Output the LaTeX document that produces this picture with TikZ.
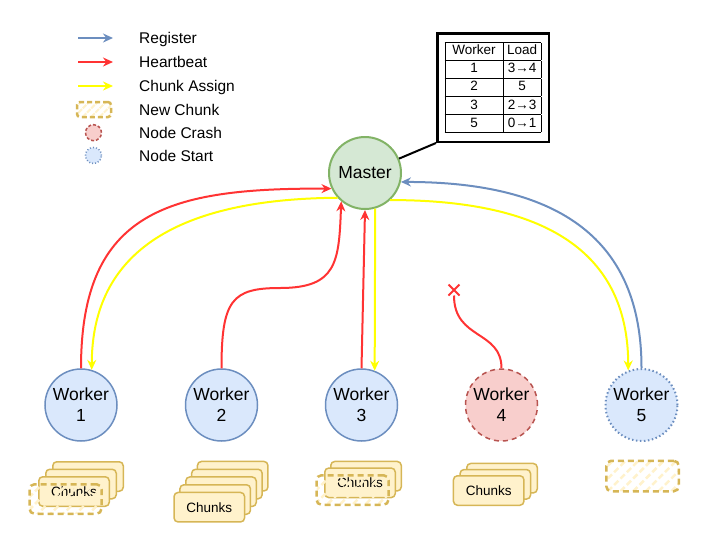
\documentclass[tikz,border=0pt]{standalone}
\usepackage{fontspec}
\setmainfont{Liberation Sans}
\usepackage{array}
\usetikzlibrary{arrows.meta,shapes.misc,patterns.meta}

\definecolor{workerfill}{HTML}{DAE8FC}
\definecolor{workerline}{HTML}{6C8EBF}
\definecolor{masterfill}{HTML}{D5E8D4}
\definecolor{masterline}{HTML}{82B366}
\definecolor{crashfill}{HTML}{F8CECC}
\definecolor{crashline}{HTML}{B85450}
\definecolor{chunkfill}{HTML}{FFF2CC}
\definecolor{chunkline}{HTML}{D6B656}
\definecolor{heartcol}{HTML}{FF3333}
\definecolor{assigncol}{HTML}{FFFF00}
\definecolor{registercol}{HTML}{6C8EBF}

\tikzset{
  worker/.style={circle, draw=workerline, fill=workerfill, line width=1.5pt, minimum size=72pt, inner sep=0pt, align=center, font=\fontsize{17.5}{21}\selectfont},
  crashed/.style={worker, draw=crashline, fill=crashfill, dash pattern=on 5pt off 4pt},
  started/.style={worker, line width=2pt, dash pattern=on 1.5pt off 2.5pt},
  masternode/.style={circle, draw=masterline, fill=masterfill, line width=2pt, minimum size=72pt, inner sep=0pt, font=\fontsize{17.5}{21}\selectfont},
  loadbox/.style={draw=black, fill=white, line width=2.5pt, minimum width=111.5pt, minimum height=108.5pt, inner sep=0pt, font=\fontsize{13.5}{15}\selectfont},
  chunk/.style={draw=chunkline, fill=chunkfill, line width=1.5pt, rounded corners=4pt, minimum width=70.5pt, minimum height=29.5pt, inner sep=0pt, font=\fontsize{13.5}{16}\selectfont},
  newchunk/.style={draw=chunkline, line width=2.5pt, dash pattern=on 6pt off 4pt, rounded corners=5pt, pattern={Lines[angle=45,distance=9pt,line width=2.5pt]}, pattern color=chunkfill, minimum width=72pt, minimum height=29.5pt, inner sep=0pt},
  register/.style={draw=registercol, line width=2pt, -{Stealth[length=10pt,width=9pt]}},
  heartbeat/.style={draw=heartcol, line width=2pt, -{Stealth[length=10pt,width=9pt]}},
  assign/.style={draw=assigncol, line width=2pt, -{Stealth[length=10pt,width=9pt]}},
  legendtext/.style={anchor=base west, inner sep=0pt, font=\fontsize{15.5}{18}\selectfont},
}

\begin{document}
\begin{tikzpicture}[x=1pt, y=-1pt]
\useasboundingbox (0,0) rectangle (720,539);

% legend
\coordinate (regA) at (78,38);
\coordinate (regB) at (113,38);
\draw[register] (regA) -- (regB);
\node[legendtext] (regtext) at (139,43.5) {Register};
\coordinate (beatA) at (78,62);
\coordinate (beatB) at (113,62);
\draw[heartbeat] (beatA) -- (beatB);
\node[legendtext] (beattext) at (139,67.5) {Heartbeat};
\coordinate (assignA) at (78,86);
\coordinate (assignB) at (113,86);
\draw[assign] (assignA) -- (assignB);
\node[legendtext] (assigntext) at (139,91.5) {Chunk Assign};
\node[newchunk, minimum width=34pt, minimum height=15pt, rounded corners=3pt, dash pattern=on 5pt off 3pt, pattern={Lines[angle=45,distance=6pt,line width=2pt]}] (newkey) at (94,109.5) {};
\node[legendtext] (newtext) at (139,115) {New Chunk};
\node[crashed, minimum size=16pt, dash pattern=on 3pt off 2pt] (crashkey) at (93.5,132.7) {};
\node[legendtext] (crashtext) at (139,138.5) {Node Crash};
\node[started, minimum size=16pt, line width=1.5pt, dash pattern=on 1pt off 2pt] (startkey) at (93.5,155.5) {};
\node[legendtext] (starttext) at (139,161.5) {Node Start};

% master and its load table
\node[masternode] (master) at (365,173) {Master};
\node[loadbox] (loads) at (493,87.5) {%
  \setlength{\arrayrulewidth}{0.8pt}\setlength{\tabcolsep}{0pt}\renewcommand{\arraystretch}{1.15}%
  \begin{tabular}{|>{\centering\arraybackslash}p{57.5pt}|>{\centering\arraybackslash}p{37pt}|}
  \hline Worker & Load\\
  \hline 1 & 3→4\\
  \hline 2 & 5\\
  \hline 3 & 2→3\\
  \hline 5 & 0→1\\
  \hline
  \end{tabular}};
\draw[line width=2pt] (master) -- (loads.south west);

% workers
\node[worker] (w1) at (81,405) {Worker\\1};
\node[worker] (w2) at (221.5,405) {Worker\\2};
\node[worker] (w3) at (361.5,405) {Worker\\3};
\node[crashed] (w4) at (501.5,405) {Worker\\4};
\node[started] (w5) at (641.5,405) {Worker\\5};
\node[cross out, draw=heartcol, line width=2pt, minimum size=9pt, inner sep=0pt] (crash) at (454,290) {};

% chunks
\node[chunk] (k11) at (88,476.5) {};
\node[chunk] (k12) at (81,484) {};
\node[chunk] (k13) at (74,491.5) {Chunks};
\node[newchunk] (n1) at (65.5,499) {};
\node[chunk] (k21) at (232.7,476.2) {};
\node[chunk] (k22) at (226.9,484) {};
\node[chunk] (k23) at (221,491.7) {};
\node[chunk] (k24) at (215.2,499.5) {};
\node[chunk] (k25) at (209.3,507.2) {Chunks};
\node[chunk] (k31) at (366,476.2) {};
\node[chunk] (k32) at (360,482.8) {Chunks};
\node[newchunk] (n3) at (352.5,490) {};
\node[chunk] (k41) at (502,478.2) {};
\node[chunk] (k42) at (495.3,484.3) {};
\node[chunk] (k43) at (488.7,490.5) {Chunks};
\node[newchunk, minimum width=72.5pt, minimum height=30.5pt] (n5) at (642.5,476) {};

% chunk assignments
\draw[assign] (master.222) .. controls (180,199) and (92,250) .. (w1.73);
\draw[assign] (master.286) -- (w3.69);
\draw[assign] (master.313) .. controls (535,200) and (628,245) .. (w5.111);

% register
\draw[register] (w5.north) .. controls (641.5,240) and (560,182) .. (master.346);

% heartbeats
\draw[heartbeat] (w1.north) .. controls (81,210) and (170,188) .. (master.205);
\draw[heartbeat] (w2.north) .. controls (221.5,300) and (232,288) .. (280,288) .. controls (337,288) and (339,262) .. (master.230);
\draw[heartbeat] (w3.north) -- (master.south);
\draw[draw=heartcol, line width=2pt] (w4.north) .. controls (501.5,330) and (454,340) .. (crash.south);
\end{tikzpicture}
\end{document}
